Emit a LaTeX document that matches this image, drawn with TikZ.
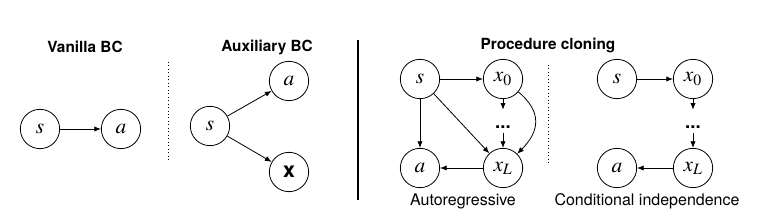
\documentclass[tikz,border=0pt]{standalone}
\usepackage{mathptmx}
\usepackage{fontspec}
\setmainfont{TeX Gyre Heros}
\usetikzlibrary{arrows.meta}

\begin{document}
\begin{tikzpicture}[x=0.75pt,y=-0.75pt,
  var/.style={circle,draw=black,line width=0.6pt,minimum size=29.5pt,inner sep=0pt,font=\fontsize{16}{16}\selectfont},
  dots/.style={inner sep=0pt,anchor=base,text height=13.9pt,text depth=3.4pt,font=\bfseries\fontsize{14}{14}\selectfont},
  edge/.style={-{Latex[length=5pt,width=4pt]},line width=0.6pt},
  title/.style={font=\bfseries\fontsize{11.5}{13}\selectfont},
  caption/.style={font=\fontsize{12}{14}\selectfont}]
  \useasboundingbox (0,0) rectangle (759,216);

  % Vanilla BC
  \node[title] (t1) at (85, 47) {Vanilla BC};
  \node[var] (s1) at (40, 129) {$s$};
  \node[var] (a1) at (121, 129) {$a$};
  \draw[edge] (s1) -- (a1);

  \draw[dotted,line width=0.6pt] (168, 62) -- (168, 160);

  % Auxiliary BC
  \node[title] (t2) at (267, 47) {Auxiliary BC};
  \node[var] (s2) at (210, 126) {$s$};
  \node[var] (a2) at (289, 81) {$a$};
  \node[var] (x2) at (289, 172) {\textbf{x}};
  \foreach \from/\to in {s2/a2, s2/x2}
    \draw[edge] (\from) -- (\to);

  \draw[line width=0.8pt] (358, 40) -- (358, 200);

  % Procedure cloning
  \node[title] (t3) at (548, 45) {Procedure cloning};

  % Autoregressive
  \node[var] (s3) at (420, 79) {$s$};
  \node[var] (x03) at (503, 79) {$x_0$};
  \node[var] (a3) at (420, 168) {$a$};
  \node[var] (xL3) at (503, 168) {$x_L$};
  \node[dots] (d3) at (503, 128.5) {...};
  \foreach \from/\to in {s3/x03, s3/a3, s3/xL3, xL3/a3, x03/d3, d3/xL3}
    \draw[edge] (\from) -- (\to);
  \draw[edge] (x03) to[out=-40,in=45,looseness=1.3] (xL3);
  \node[caption] (c3) at (463, 201) {Autoregressive};

  \draw[dotted,line width=0.6pt] (548, 65) -- (548, 165);

  % Conditional independence
  \node[var] (s4) at (617, 79) {$s$};
  \node[var] (x04) at (693, 79) {$x_0$};
  \node[var] (a4) at (617, 168) {$a$};
  \node[var] (xL4) at (693, 168) {$x_L$};
  \node[dots] (d4) at (693, 128.5) {...};
  \foreach \from/\to in {s4/x04, xL4/a4, x04/d4, d4/xL4}
    \draw[edge] (\from) -- (\to);
  \node[caption] (c4) at (647, 201) {Conditional independence};
\end{tikzpicture}
\end{document}
